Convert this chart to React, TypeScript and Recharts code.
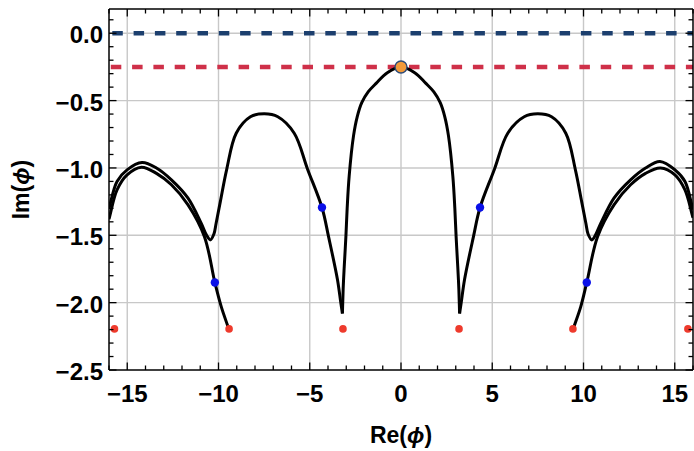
import React from 'react';
import { ComposedChart, XAxis, YAxis, Line, Scatter, ReferenceLine, Label } from 'recharts';

// ---- data ----
const centralCurve = [
  { x: -3.21, y: -2.08 }, { x: -3.17, y: -1.9 }, { x: -3.11, y: -1.733 }, { x: -3.02, y: -1.51 },
  { x: -2.95, y: -1.3 }, { x: -2.84, y: -1.06 }, { x: -2.6, y: -0.76 }, { x: -2.4, y: -0.62 },
  { x: -2.15, y: -0.515 }, { x: -1.8, y: -0.435 }, { x: -1.35, y: -0.37 }, { x: -0.75, y: -0.293 },
  { x: 0, y: -0.251 },
  { x: 0.75, y: -0.293 }, { x: 1.35, y: -0.37 }, { x: 1.8, y: -0.435 }, { x: 2.15, y: -0.515 },
  { x: 2.4, y: -0.62 }, { x: 2.6, y: -0.76 }, { x: 2.84, y: -1.06 }, { x: 2.95, y: -1.3 },
  { x: 3.02, y: -1.51 }, { x: 3.11, y: -1.733 }, { x: 3.17, y: -1.9 }, { x: 3.21, y: -2.08 },
];

const leftUpper = [
  { x: -16, y: -1.3 }, { x: -15.56, y: -1.1 }, { x: -15.01, y: -1.014 }, { x: -14.19, y: -0.96 },
  { x: -13.4, y: -1.0 }, { x: -12.58, y: -1.088 }, { x: -11.67, y: -1.224 }, { x: -10.95, y: -1.41 },
  { x: -10.65, y: -1.5 }, { x: -10.44, y: -1.534 }, { x: -10.25, y: -1.49 }, { x: -10.13, y: -1.41 },
  { x: -9.9, y: -1.25 }, { x: -9.55, y: -1.01 }, { x: -9.03, y: -0.742 }, { x: -8.25, y: -0.62 },
  { x: -7.49, y: -0.598 }, { x: -6.75, y: -0.62 }, { x: -5.85, y: -0.742 }, { x: -5.12, y: -1.009 },
  { x: -4.33, y: -1.294 }, { x: -3.97, y: -1.51 }, { x: -3.48, y: -1.83 }, { x: -3.3, y: -2.0 },
  { x: -3.21, y: -2.08 },
];

const leftLower = [
  { x: -16, y: -1.38 }, { x: -15.56, y: -1.163 }, { x: -15.01, y: -1.051 }, { x: -14.22, y: -0.994 },
  { x: -13.4, y: -1.04 }, { x: -12.58, y: -1.125 }, { x: -11.67, y: -1.274 }, { x: -10.77, y: -1.51 },
  { x: -10.2, y: -1.85 }, { x: -9.85, y: -2.03 }, { x: -9.45, y: -2.19 },
];

const rightUpper = [
  { x: 3.21, y: -2.08 }, { x: 3.3, y: -2.0 }, { x: 3.48, y: -1.83 }, { x: 3.97, y: -1.51 },
  { x: 4.33, y: -1.294 }, { x: 5.12, y: -1.009 }, { x: 5.85, y: -0.742 }, { x: 6.75, y: -0.62 },
  { x: 7.49, y: -0.598 }, { x: 8.25, y: -0.62 }, { x: 9.03, y: -0.742 }, { x: 9.55, y: -1.01 },
  { x: 9.9, y: -1.25 }, { x: 10.13, y: -1.41 }, { x: 10.25, y: -1.49 }, { x: 10.46, y: -1.534 },
  { x: 10.65, y: -1.5 }, { x: 10.95, y: -1.41 }, { x: 11.67, y: -1.224 }, { x: 12.58, y: -1.088 },
  { x: 13.4, y: -1.0 }, { x: 14.19, y: -0.952 }, { x: 15.01, y: -1.014 }, { x: 15.56, y: -1.1 },
  { x: 16, y: -1.31 },
];

const rightLower = [
  { x: 9.45, y: -2.19 }, { x: 9.85, y: -2.03 }, { x: 10.18, y: -1.85 }, { x: 10.77, y: -1.51 },
  { x: 11.67, y: -1.274 }, { x: 12.58, y: -1.125 }, { x: 13.4, y: -1.04 }, { x: 14.22, y: -1.0 },
  { x: 15.01, y: -1.051 }, { x: 15.56, y: -1.163 }, { x: 16, y: -1.37 },
];

const redPoints = [
  { x: -15.7, y: -2.195 }, { x: -9.42, y: -2.195 }, { x: -3.18, y: -2.195 },
  { x: 3.18, y: -2.195 }, { x: 9.42, y: -2.195 }, { x: 15.72, y: -2.195 },
];
const bluePoints = [
  { x: -10.2, y: -1.85 }, { x: -4.33, y: -1.294 }, { x: 4.33, y: -1.294 }, { x: 10.18, y: -1.85 },
];
const peakPoint = [{ x: 0, y: -0.251 }];

const zeroLevel = 0;
const peakLevel = -0.25;

const xDomain = [-16, 16];
const yDomain = [-2.5, 0.18];
const xMajor = [-15, -10, -5, 0, 5, 10, 15];
const yMajor = [0, -0.5, -1, -1.5, -2];
const xTicks = [-16, -15, -14, -13, -12, -11, -10, -9, -8, -7, -6, -5, -4, -3, -2, -1, 0,
  1, 2, 3, 4, 5, 6, 7, 8, 9, 10, 11, 12, 13, 14, 15, 16];
const yTicks = [-2.5, -2.4, -2.3, -2.2, -2.1, -2.0, -1.9, -1.8, -1.7, -1.6, -1.5, -1.4, -1.3, -1.2,
  -1.1, -1.0, -0.9, -0.8, -0.7, -0.6, -0.5, -0.4, -0.3, -0.2, -0.1, 0, 0.1];

const FONT = "'Liberation Sans', Arial, Helvetica, sans-serif";
const fmtMinus = (s: string) => s.replace('-', '\u2212');
const isXMajor = (v: number) => Math.abs(v % 5) < 1e-9;
const isYMajor = (v: number) => Math.abs(v * 2 - Math.round(v * 2)) < 1e-6;

const MAJOR = 7.5;
const MINOR = 4.5;

// centripetal Catmull-Rom curve factory (smooth curve through the given points)
const centripetal = (context: any) => {
  let pts: number[][] = [];
  return {
    areaStart() {},
    areaEnd() {},
    lineStart() { pts = []; },
    point(x: number, y: number) { pts.push([+x, +y]); },
    lineEnd() {
      const n = pts.length;
      if (!n) return;
      context.moveTo(pts[0][0], pts[0][1]);
      if (n === 1) return;
      const dist = (a: number[], b: number[]) => Math.sqrt(Math.hypot(a[0] - b[0], a[1] - b[1]));
      for (let i = 0; i < n - 1; i++) {
        const p0 = pts[i - 1] || pts[i];
        const p1 = pts[i];
        const p2 = pts[i + 1];
        const p3 = pts[i + 2] || pts[i + 1];
        const l01 = i > 0 ? dist(p0, p1) : 0;
        const l12 = dist(p1, p2);
        const l23 = i + 2 < n ? dist(p2, p3) : 0;
        let c1x, c1y, c2x, c2y;
        if (l01 > 1e-9) {
          const a = 2 * l01 * l01 + 3 * l01 * l12 + l12 * l12;
          const m = 3 * l01 * (l01 + l12);
          c1x = (p1[0] * a - p0[0] * l12 * l12 + p2[0] * l01 * l01) / m;
          c1y = (p1[1] * a - p0[1] * l12 * l12 + p2[1] * l01 * l01) / m;
        } else {
          c1x = p1[0] + (p2[0] - p1[0]) / 3;
          c1y = p1[1] + (p2[1] - p1[1]) / 3;
        }
        if (l23 > 1e-9) {
          const b = 2 * l23 * l23 + 3 * l23 * l12 + l12 * l12;
          const m = 3 * l23 * (l23 + l12);
          c2x = (p2[0] * b + p1[0] * l23 * l23 - p3[0] * l12 * l12) / m;
          c2y = (p2[1] * b + p1[1] * l23 * l23 - p3[1] * l12 * l12) / m;
        } else {
          c2x = p2[0] - (p2[0] - p1[0]) / 3;
          c2y = p2[1] - (p2[1] - p1[1]) / 3;
        }
        context.bezierCurveTo(c1x, c1y, c2x, c2y, p2[0], p2[1]);
      }
    },
  };
};

const BottomTick = (props: any) => {
  const { x, y, payload } = props;
  const v = payload.value;
  const major = isXMajor(v);
  return (
    <g>
      <line x1={x} x2={x} y1={y} y2={y - (major ? MAJOR : MINOR)} stroke="#000" strokeWidth={1.3} />
      {major && (
        <text x={x} y={y + 32} textAnchor="middle" fontFamily={FONT} fontWeight="bold" fontSize={24} fill="#000">
          {fmtMinus(String(v))}
        </text>
      )}
    </g>
  );
};

const TopTick = (props: any) => {
  const { x, y, payload } = props;
  const major = isXMajor(payload.value);
  return <line x1={x} x2={x} y1={y} y2={y + (major ? MAJOR : MINOR)} stroke="#000" strokeWidth={1.3} />;
};

const LeftTick = (props: any) => {
  const { x, y, payload } = props;
  const v = payload.value;
  const major = isYMajor(v);
  return (
    <g>
      <line x1={x} x2={x + (major ? MAJOR : MINOR)} y1={y} y2={y} stroke="#000" strokeWidth={1.3} />
      {major && (
        <text x={x - 6} y={y + 10} textAnchor="end" fontFamily={FONT} fontWeight="bold" fontSize={24} fill="#000">
          {fmtMinus(v.toFixed(1))}
        </text>
      )}
    </g>
  );
};

const RightTick = (props: any) => {
  const { x, y, payload } = props;
  const major = isYMajor(payload.value);
  return <line x1={x} x2={x - (major ? MAJOR : MINOR)} y1={y} y2={y} stroke="#000" strokeWidth={1.3} />;
};

const XTitle = (props: any) => {
  const vb = props.viewBox;
  return (
    <text x={vb.x + vb.width / 2} y={vb.y + 73} textAnchor="middle" fontFamily={FONT} fontWeight="bold" fontSize={23} fill="#000">
      Re(<tspan fontStyle="italic">ϕ</tspan>)
    </text>
  );
};

const YTitle = (props: any) => {
  const vb = props.viewBox;
  const cx = 29;
  const cy = vb.y + vb.height / 2;
  return (
    <text x={cx} y={cy} transform={`rotate(-90 ${cx} ${cy})`} textAnchor="middle" fontFamily={FONT} fontWeight="bold" fontSize={23} fill="#000">
      Im(<tspan fontStyle="italic">ϕ</tspan>)
    </text>
  );
};

const RedDot = (p: any) => <circle cx={p.cx} cy={p.cy} r={3.8} fill="#ee3a2c" />;
const BlueDot = (p: any) => <circle cx={p.cx} cy={p.cy} r={4.2} fill="#0a10e8" />;
const PeakDot = (p: any) => <circle cx={p.cx} cy={p.cy} r={6} fill="#f29a3a" stroke="#2c4a78" strokeWidth={1.4} />;

const curveStyle = { stroke: '#000', strokeWidth: 3 };

export default function App() {
  const axisLine = { stroke: '#000', strokeWidth: 1.5 };
  return (
    <div style={{ position: 'absolute', left: 0, top: 0, background: '#fff' }}>
      <ComposedChart width={694} height={451} margin={{ top: 0, right: 0, bottom: 0, left: 0 }}>
        <XAxis xAxisId="b" type="number" dataKey="x" domain={xDomain} ticks={xTicks} interval={0}
          allowDataOverflow height={81} tick={<BottomTick />} tickLine={false} tickSize={0} tickMargin={0} axisLine={axisLine}>
          <Label content={<XTitle />} />
        </XAxis>
        <XAxis xAxisId="t" orientation="top" type="number" dataKey="x" domain={xDomain} ticks={xTicks} interval={0}
          allowDataOverflow height={9} tick={<TopTick />} tickLine={false} tickSize={0} tickMargin={0} axisLine={axisLine} />
        <YAxis yAxisId="l" type="number" domain={yDomain} ticks={yTicks} interval={0} allowDataOverflow width={109}
          tick={<LeftTick />} tickLine={false} tickSize={0} tickMargin={0} axisLine={axisLine}>
          <Label content={<YTitle />} />
        </YAxis>
        <YAxis yAxisId="r" orientation="right" type="number" domain={yDomain} ticks={yTicks} interval={0} allowDataOverflow width={1}
          tick={<RightTick />} tickLine={false} tickSize={0} tickMargin={0} axisLine={axisLine} />

        {xMajor.map((v) => (
          <ReferenceLine key={'gx' + v} xAxisId="b" yAxisId="l" x={v} stroke="#c8c8c8" strokeWidth={1.4} />
        ))}
        {yMajor.map((v) => (
          <ReferenceLine key={'gy' + v} xAxisId="b" yAxisId="l" y={v} stroke="#c8c8c8" strokeWidth={1.4} />
        ))}

        <ReferenceLine xAxisId="b" yAxisId="l" y={zeroLevel} stroke="#1c3f6e" strokeWidth={4.5} strokeDasharray="10.5 10.8" strokeDashoffset={18} />
        <ReferenceLine xAxisId="b" yAxisId="l" y={peakLevel} stroke="#cf3049" strokeWidth={4.5} strokeDasharray="10.5 10.8" strokeDashoffset={19.5} />

        <Line xAxisId="b" yAxisId="l" data={centralCurve} dataKey="y" type={centripetal as any} dot={false} isAnimationActive={false} {...curveStyle} />
        <Line xAxisId="b" yAxisId="l" data={leftUpper} dataKey="y" type={centripetal as any} dot={false} isAnimationActive={false} {...curveStyle} />
        <Line xAxisId="b" yAxisId="l" data={leftLower} dataKey="y" type={centripetal as any} dot={false} isAnimationActive={false} {...curveStyle} />
        <Line xAxisId="b" yAxisId="l" data={rightUpper} dataKey="y" type={centripetal as any} dot={false} isAnimationActive={false} {...curveStyle} />
        <Line xAxisId="b" yAxisId="l" data={rightLower} dataKey="y" type={centripetal as any} dot={false} isAnimationActive={false} {...curveStyle} />

        <Scatter xAxisId="b" yAxisId="l" data={redPoints} dataKey="y" shape={<RedDot />} isAnimationActive={false} />
        <Scatter xAxisId="b" yAxisId="l" data={bluePoints} dataKey="y" shape={<BlueDot />} isAnimationActive={false} />
        <Scatter xAxisId="b" yAxisId="l" data={peakPoint} dataKey="y" shape={<PeakDot />} isAnimationActive={false} />
      </ComposedChart>
    </div>
  );
}
